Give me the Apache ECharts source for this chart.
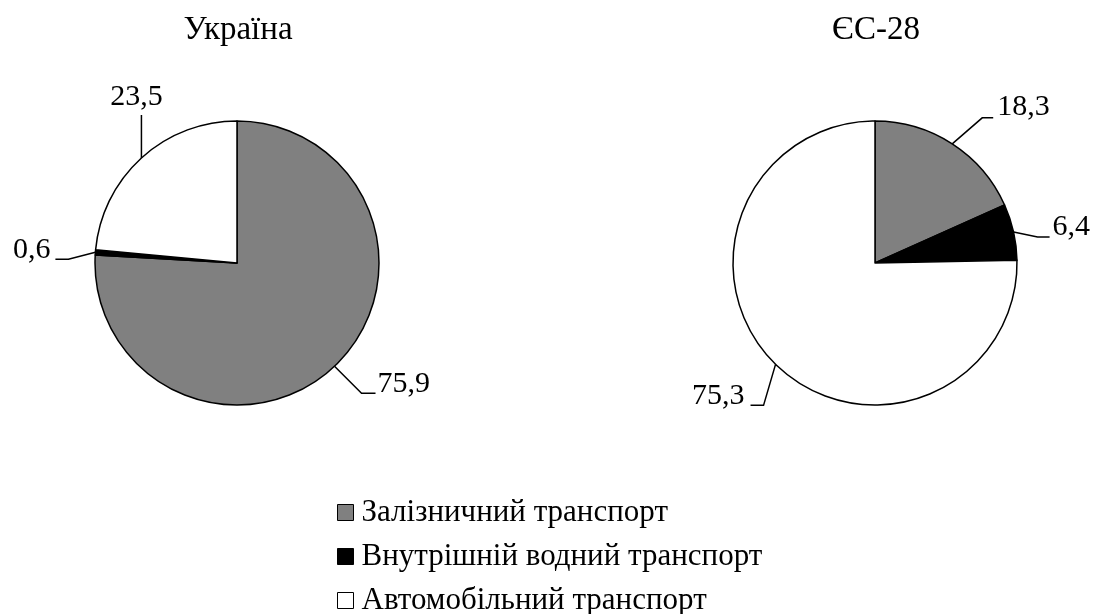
<!DOCTYPE html>
<html>
<head>
<meta charset="utf-8">
<script src="https://cdn.jsdelivr.net/npm/echarts@6/dist/echarts.min.js"></script>
<style>
  html, body { margin: 0; padding: 0; background: #fff; }
  #main { width: 1096px; height: 614px; }
</style>
</head>
<body>
<div id="main"></div>
<script>
// data
const categories = ['Залізничний транспорт', 'Внутрішній водний транспорт', 'Автомобільний транспорт'];
const colors = ['#808080', '#000000', '#ffffff'];
const ukraineValues = [75.9, 0.6, 23.5];
const euValues = [18.3, 6.4, 75.3];
const titles = ['Україна', 'ЄС-28'];

const font = 'Liberation Serif, Times New Roman, serif';

// leader line offsets from the point on the arc:
// [elbow dx, elbow dy, end dx, end dy, label dx, label dy, align]
const ukraineLeaders = [
  [27, 27, 41, 27, 43, 18, 'left'],
  [-27, 7, -40, 7, -45, -2, 'right'],
  [0, -43, 0, -43, -5, -61, 'center']
];
const euLeaders = [
  [30, -26, 41, -26, 45, -37, 'left'],
  [24, 5, 36, 5, 39, -5, 'left'],
  [-12, 41, -25, 41, -31, 32, 'right']
];

function buildData(values) {
  return values.map((v, i) => ({
    name: categories[i],
    value: v,
    itemStyle: { color: colors[i] }
  }));
}

function leaderLayout(leaders) {
  return function (params) {
    if (!params.labelLinePoints) return {};
    const p0 = params.labelLinePoints[0];
    const o = leaders[params.dataIndex];
    return {
      x: p0[0] + o[4],
      y: p0[1] + o[5],
      align: o[6],
      verticalAlign: 'middle',
      labelLinePoints: [
        [p0[0], p0[1]],
        [p0[0] + o[0], p0[1] + o[1]],
        [p0[0] + o[2], p0[1] + o[3]]
      ]
    };
  };
}

const chart = echarts.init(document.getElementById('main'));

const pieBase = {
  type: 'pie',
  radius: 142,
  startAngle: 90,
  clockwise: true,
  avoidLabelOverlap: false,
  silent: true,
  itemStyle: { borderColor: '#000', borderWidth: 1.5 },
  label: {
    show: true,
    position: 'outside',
    fontFamily: font,
    fontSize: 30,
    color: '#000',
    formatter: p => String(p.value).replace('.', ',')
  },
  labelLine: {
    show: true,
    length: 20,
    length2: 10,
    lineStyle: { color: '#000', width: 1.5 }
  }
};

const titleStyle = { fontFamily: font, fontSize: 33, fontWeight: 'normal', color: '#000' };
const legendTops = [497, 541, 585];

const option = {
  animation: false,
  backgroundColor: '#fff',
  title: [
    { text: titles[0], left: 233, top: 9, textAlign: 'center', textStyle: titleStyle },
    { text: titles[1], left: 871, top: 9, textAlign: 'center', textStyle: titleStyle }
  ],
  legend: categories.map((name, i) => ({
    orient: 'vertical',
    left: 337,
    top: legendTops[i],
    padding: 0,
    icon: 'rect',
    itemWidth: 16,
    itemHeight: 16,
    selectedMode: false,
    data: [name],
    itemStyle: { borderColor: '#000', borderWidth: 1 },
    textStyle: { fontFamily: font, fontSize: 31, color: '#000', lineHeight: 31, padding: [0, 0, 0, 3] }
  })),
  series: [
    Object.assign({}, pieBase, {
      center: [237, 263],
      data: buildData(ukraineValues),
      labelLayout: leaderLayout(ukraineLeaders)
    }),
    Object.assign({}, pieBase, {
      center: [875, 263],
      data: buildData(euValues),
      labelLayout: leaderLayout(euLeaders)
    })
  ]
};

chart.setOption(option);
</script>
</body>
</html>
